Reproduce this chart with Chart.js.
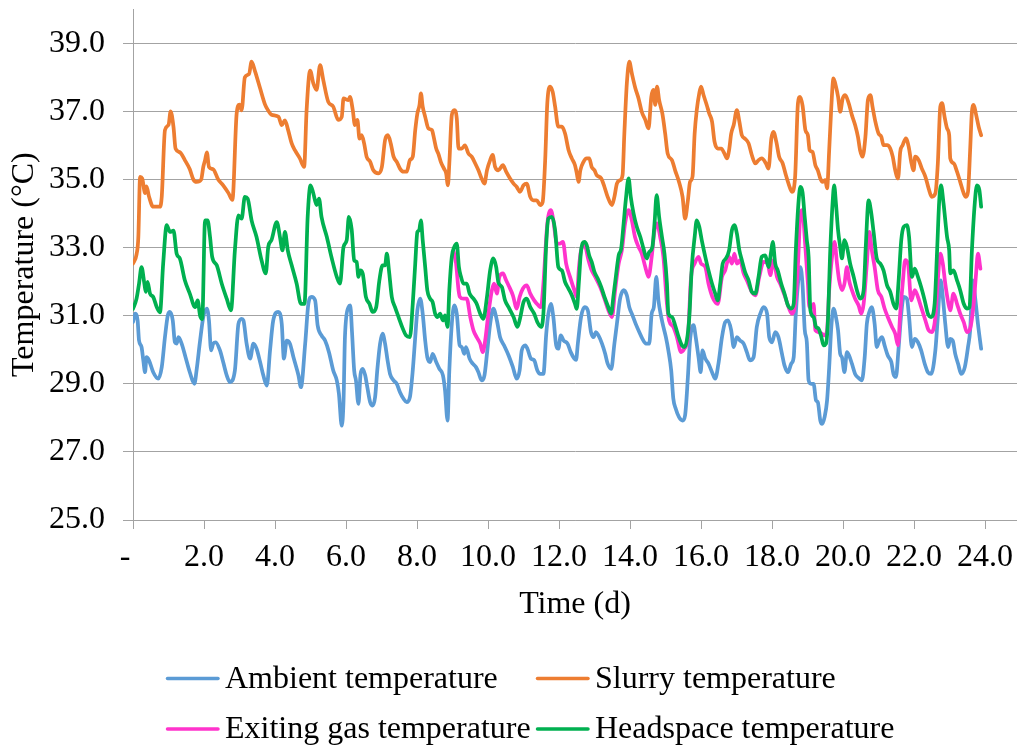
<!DOCTYPE html>
<html>
<head>
<meta charset="utf-8">
<script src="https://cdn.jsdelivr.net/npm/chart.js@4.4.1/dist/chart.umd.min.js"></script>
<style>
  html, body { margin: 0; padding: 0; background: #fff; overflow: hidden; }
  canvas { display: block; }
</style>
</head>
<body>
<canvas id="c" width="1017" height="746"></canvas>
<script>
// ---------------- DATA ----------------
const xTicks = [0, 2, 4, 6, 8, 10, 12, 14, 16, 18, 20, 22, 24];
const yTicks = [25, 27, 29, 31, 33, 35, 37, 39];

const seriesNames = ['Ambient temperature', 'Slurry temperature', 'Exiting gas temperature', 'Headspace temperature'];

const ambientDays = [0.00,0.06,0.13,0.17,0.24,0.29,0.34,0.38,0.45,0.57,0.71,0.81,0.90,0.98,1.04,1.12,1.18,1.23,1.28,1.37,1.48,1.60,1.73,1.79,1.89,1.98,2.08,2.14,2.20,2.26,2.33,2.45,2.54,2.64,2.73,2.87,2.97,3.06,3.11,3.20,3.30,3.39,3.48,3.58,3.67,3.77,3.86,3.95,4.09,4.19,4.25,4.33,4.42,4.52,4.66,4.73,4.85,4.94,5.03,5.13,5.20,5.31,5.41,5.52,5.64,5.74,5.80,5.88,5.93,5.97,6.07,6.12,6.17,6.23,6.28,6.35,6.41,6.47,6.54,6.60,6.68,6.75,6.82,6.88,6.96,7.03,7.10,7.17,7.24,7.34,7.43,7.52,7.62,7.71,7.80,7.88,7.95,8.01,8.09,8.16,8.23,8.29,8.37,8.44,8.54,8.63,8.73,8.79,8.86,8.91,8.98,9.05,9.12,9.20,9.26,9.33,9.38,9.48,9.57,9.66,9.73,9.82,9.90,9.98,10.06,10.15,10.25,10.34,10.45,10.58,10.70,10.81,10.89,10.95,11.05,11.11,11.21,11.30,11.39,11.47,11.56,11.64,11.70,11.77,11.84,11.92,11.98,12.05,12.13,12.24,12.33,12.43,12.48,12.53,12.62,12.72,12.81,12.90,12.97,13.04,13.11,13.21,13.30,13.37,13.47,13.56,13.63,13.72,13.82,13.91,13.98,14.07,14.16,14.26,14.35,14.45,14.54,14.61,14.67,14.74,14.80,14.88,14.94,15.01,15.08,15.16,15.22,15.29,15.38,15.48,15.55,15.63,15.69,15.79,15.85,15.93,15.99,16.04,16.12,16.21,16.31,16.40,16.49,16.59,16.68,16.76,16.85,16.92,17.01,17.10,17.20,17.29,17.38,17.48,17.57,17.67,17.76,17.86,17.92,18.00,18.09,18.18,18.28,18.35,18.45,18.54,18.61,18.67,18.75,18.80,18.86,18.92,18.98,19.03,19.10,19.17,19.24,19.29,19.36,19.41,19.48,19.55,19.61,19.67,19.73,19.80,19.86,19.92,19.97,20.04,20.11,20.17,20.25,20.34,20.46,20.53,20.61,20.67,20.74,20.81,20.89,20.95,21.02,21.10,21.17,21.26,21.36,21.42,21.49,21.56,21.64,21.71,21.80,21.86,21.94,22.02,22.11,22.20,22.30,22.39,22.48,22.60,22.67,22.75,22.81,22.88,22.96,23.02,23.09,23.16,23.24,23.33,23.43,23.52,23.58,23.65,23.73,23.80,23.89];
const ambientTemp = [30.81,31.06,30.86,30.27,30.08,29.69,29.34,29.78,29.69,29.34,29.15,29.49,30.37,31.01,31.11,30.86,30.22,30.18,30.37,30.18,29.78,29.34,29.00,29.39,30.27,30.96,31.21,30.86,29.98,30.18,30.22,29.98,29.64,29.25,29.05,29.39,30.76,30.91,30.86,30.18,29.74,30.18,30.03,29.64,29.25,28.95,29.98,30.86,31.11,30.76,29.74,30.27,30.18,29.78,29.25,28.90,30.18,31.35,31.55,31.45,30.72,30.42,30.27,29.93,29.39,29.10,28.71,27.77,28.50,30.37,31.25,31.30,30.50,29.39,29.10,28.41,29.29,29.44,29.25,28.90,28.46,28.36,28.61,29.39,30.18,30.47,30.18,29.69,29.29,29.10,29.00,28.75,28.56,28.46,28.61,29.39,30.37,31.16,31.50,31.06,30.27,29.78,29.64,29.88,29.64,29.44,29.25,28.80,27.92,29.39,30.76,31.30,31.06,30.13,30.08,29.88,30.08,29.74,29.59,29.49,29.34,29.10,29.25,29.98,30.76,31.21,30.86,30.37,30.13,29.83,29.49,29.15,29.39,29.98,30.13,30.03,29.74,29.69,29.39,29.29,29.29,30.47,31.06,31.35,30.96,30.13,30.03,30.42,30.27,30.18,29.93,29.74,29.70,30.18,30.96,31.25,31.16,30.52,30.37,30.52,30.42,30.18,29.88,29.59,29.44,30.18,30.76,31.50,31.75,31.60,31.25,31.01,30.76,30.52,30.32,30.18,30.18,31.06,31.25,32.14,31.45,30.96,30.67,30.37,29.98,29.39,28.56,28.26,28.02,27.92,28.07,29.20,30.27,30.72,30.37,29.78,29.34,29.98,29.74,29.59,29.34,29.15,29.59,30.37,30.81,30.86,30.57,30.08,30.37,30.27,30.18,29.93,29.69,29.78,30.67,31.06,31.25,31.06,30.37,30.22,30.52,30.37,29.88,29.54,29.34,29.59,29.78,31.06,32.14,32.43,31.90,30.60,30.22,29.10,29.00,29.00,28.51,28.46,27.92,27.82,28.02,28.51,29.49,30.67,31.21,30.96,30.57,29.88,29.78,29.34,29.93,29.83,29.59,29.29,29.15,29.10,29.78,30.76,31.11,31.25,30.76,30.08,30.27,30.37,30.13,29.83,29.64,29.29,29.20,29.98,31.06,31.55,31.50,30.96,30.08,30.32,30.22,29.98,29.59,29.34,29.29,29.98,30.96,32.04,31.55,30.76,30.08,30.32,30.27,29.88,29.59,29.29,29.49,30.08,30.57,32.04,31.45,30.76,30.03];

const slurryDays = [0.00,0.10,0.15,0.20,0.26,0.34,0.38,0.45,0.57,0.76,0.81,0.90,1.00,1.06,1.14,1.20,1.32,1.46,1.60,1.70,1.79,1.92,1.98,2.03,2.08,2.14,2.26,2.40,2.54,2.69,2.80,2.92,3.00,3.06,3.15,3.27,3.34,3.44,3.58,3.72,3.80,3.90,4.10,4.19,4.28,4.37,4.47,4.56,4.70,4.82,4.89,4.99,5.08,5.17,5.27,5.36,5.50,5.64,5.78,5.88,5.93,6.07,6.11,6.19,6.25,6.32,6.38,6.44,6.51,6.58,6.68,6.77,6.91,7.01,7.10,7.18,7.26,7.34,7.43,7.52,7.62,7.71,7.80,7.88,7.95,8.01,8.07,8.11,8.16,8.23,8.32,8.42,8.48,8.54,8.60,8.67,8.76,8.82,8.87,8.91,8.98,9.05,9.12,9.17,9.26,9.35,9.45,9.54,9.64,9.73,9.82,9.90,9.97,10.06,10.13,10.20,10.29,10.42,10.51,10.62,10.72,10.81,10.90,11.00,11.09,11.19,11.28,11.37,11.47,11.54,11.61,11.67,11.75,11.82,11.89,11.98,12.08,12.17,12.27,12.36,12.45,12.50,12.55,12.60,12.69,12.78,12.85,12.92,13.00,13.06,13.19,13.28,13.37,13.49,13.56,13.63,13.72,13.79,13.84,13.91,13.98,14.05,14.15,14.24,14.33,14.43,14.52,14.60,14.66,14.71,14.76,14.82,14.91,14.99,15.06,15.18,15.27,15.38,15.48,15.55,15.63,15.69,15.76,15.82,15.88,15.95,16.00,16.07,16.16,16.23,16.31,16.38,16.47,16.57,16.66,16.73,16.79,16.85,16.92,17.01,17.08,17.15,17.24,17.34,17.43,17.53,17.62,17.71,17.83,17.90,17.98,18.04,18.12,18.20,18.30,18.39,18.48,18.56,18.65,18.73,18.79,18.86,18.94,19.01,19.06,19.14,19.22,19.29,19.36,19.42,19.50,19.55,19.61,19.67,19.73,19.80,19.86,19.92,19.99,20.06,20.16,20.25,20.34,20.42,20.48,20.55,20.63,20.70,20.77,20.83,20.91,21.00,21.08,21.14,21.24,21.33,21.40,21.47,21.55,21.61,21.68,21.77,21.85,21.92,21.99,22.03,22.13,22.22,22.32,22.41,22.50,22.60,22.67,22.74,22.79,22.86,22.93,22.99,23.02,23.12,23.21,23.30,23.40,23.46,23.52,23.58,23.63,23.68,23.74,23.82,23.89];
const slurryTemp = [32.53,32.80,33.30,35.08,35.03,34.60,34.80,34.50,34.20,34.20,34.50,36.45,36.60,37.00,36.55,35.90,35.80,35.57,35.30,35.00,34.93,35.00,35.37,35.57,35.80,35.37,35.30,35.00,34.83,34.60,34.40,36.94,37.20,37.03,38.00,38.10,38.46,38.17,37.68,37.20,37.04,36.90,36.84,36.60,36.74,36.45,36.06,35.86,35.62,35.37,37.04,38.20,37.82,37.63,38.36,37.92,37.28,37.14,36.75,36.84,37.38,37.33,37.43,37.04,36.60,36.75,36.20,36.30,36.06,35.67,35.52,35.27,35.18,35.37,36.16,36.30,36.06,35.67,35.52,35.32,35.23,35.23,35.57,35.67,36.45,36.94,37.19,37.53,37.14,36.84,36.50,36.45,36.20,35.91,35.76,35.52,35.32,35.18,34.83,35.47,36.89,37.04,36.79,35.91,35.91,36.00,35.76,35.67,35.47,35.27,35.03,34.88,35.27,35.57,35.72,35.37,35.27,35.42,35.23,35.03,34.88,34.78,34.64,34.83,34.88,34.49,34.39,34.39,34.25,34.34,35.57,37.24,37.73,37.58,37.14,36.55,36.55,36.35,35.86,35.62,35.42,35.18,34.93,35.27,35.52,35.62,35.62,35.37,35.27,35.13,35.03,34.78,34.49,34.25,34.49,34.88,34.98,35.13,36.35,37.82,38.46,38.12,37.68,37.38,36.99,36.75,36.50,37.43,37.63,37.19,37.73,37.33,36.94,36.35,35.76,35.57,35.27,34.93,34.49,33.85,34.39,34.93,35.08,36.35,37.04,37.53,37.73,37.48,37.19,36.94,36.70,36.11,35.91,35.91,35.76,35.62,35.86,36.35,36.60,37.04,36.70,36.30,36.20,36.06,35.72,35.47,35.57,35.62,35.47,35.32,36.20,36.40,36.11,35.67,35.47,35.13,34.83,34.64,35.08,37.24,37.43,37.17,36.45,36.30,35.86,35.81,35.42,35.27,35.03,34.93,34.98,34.74,35.86,37.14,37.97,37.73,37.43,36.99,37.38,37.48,37.24,36.89,36.60,36.25,35.86,35.67,36.25,37.33,37.48,37.14,36.70,36.35,36.25,36.01,36.01,35.91,35.67,35.27,35.03,35.81,36.01,36.21,35.96,35.52,35.27,35.67,35.57,35.32,35.08,34.74,34.49,34.59,35.47,37.14,37.24,36.84,36.50,36.30,35.62,35.47,35.23,34.93,34.59,34.49,34.64,35.86,36.99,37.19,36.94,36.55,36.30];

const gasDays = [9.03,9.10,9.17,9.21,9.31,9.40,9.50,9.59,9.68,9.78,9.85,9.92,10.01,10.11,10.17,10.25,10.32,10.42,10.51,10.60,10.70,10.81,10.89,10.98,11.09,11.19,11.30,11.42,11.49,11.56,11.67,11.77,11.84,11.94,12.03,12.11,12.20,12.31,12.43,12.50,12.56,12.62,12.72,12.83,12.92,13.02,13.16,13.28,13.39,13.49,13.58,13.68,13.77,13.86,13.96,14.05,14.14,14.24,14.33,14.43,14.52,14.61,14.69,14.76,14.85,14.94,15.04,15.10,15.22,15.32,15.44,15.53,15.63,15.72,15.82,15.93,16.00,16.12,16.21,16.32,16.47,16.59,16.68,16.79,16.87,16.94,17.01,17.10,17.20,17.29,17.43,17.53,17.64,17.76,17.88,17.95,18.04,18.14,18.23,18.37,18.48,18.56,18.65,18.73,18.80,18.85,18.94,19.01,19.05,19.12,19.17,19.22,19.31,19.40,19.48,19.55,19.61,19.69,19.76,19.83,19.89,19.97,20.04,20.11,20.17,20.25,20.34,20.44,20.51,20.58,20.67,20.74,20.81,20.89,20.98,21.08,21.17,21.26,21.38,21.47,21.55,21.61,21.68,21.75,21.83,21.92,22.02,22.11,22.20,22.32,22.41,22.50,22.60,22.67,22.74,22.81,22.88,22.97,23.02,23.11,23.21,23.30,23.40,23.49,23.58,23.68,23.74,23.80,23.87];
const gasTemp = [32.90,32.53,31.75,31.55,31.50,31.50,30.96,30.57,30.37,30.18,29.93,30.27,31.06,31.75,31.94,31.65,32.14,32.24,32.04,31.84,31.60,31.21,31.55,31.79,31.89,31.65,31.45,31.30,31.25,31.94,33.70,34.10,33.80,33.12,33.12,33.17,32.53,32.14,31.75,31.55,32.40,32.92,33.07,32.63,32.33,32.14,31.84,31.50,31.16,30.96,31.75,32.53,32.92,33.71,34.10,33.80,33.31,33.02,32.82,32.43,32.14,32.73,33.51,33.71,33.31,32.73,31.35,30.86,30.67,30.37,29.93,30.03,30.37,32.14,32.53,32.73,32.53,32.43,31.94,31.55,31.35,32.14,32.33,32.73,32.53,32.82,32.53,32.63,32.24,32.04,31.70,31.60,32.14,32.58,32.53,32.19,32.63,32.14,31.94,31.55,31.21,31.06,31.35,32.50,34.00,34.10,33.00,31.94,31.25,31.25,31.35,30.57,30.52,30.47,30.42,30.57,31.75,32.73,33.17,32.53,32.04,31.75,31.94,32.43,32.04,31.75,31.50,31.30,31.06,31.35,32.53,33.46,32.92,32.43,31.75,31.55,31.21,30.96,30.67,30.47,30.13,31.06,31.94,32.63,32.53,31.45,31.75,31.55,31.25,30.86,30.57,30.52,30.96,32.04,32.82,32.53,31.94,31.35,31.16,31.65,31.35,31.06,30.81,30.52,30.62,31.35,32.14,32.82,32.38];

const headDays = [0.00,0.10,0.17,0.24,0.32,0.36,0.41,0.48,0.57,0.67,0.76,0.85,0.95,1.04,1.14,1.23,1.32,1.46,1.60,1.75,1.82,1.89,1.95,2.03,2.10,2.17,2.23,2.36,2.50,2.64,2.76,2.87,2.97,3.06,3.15,3.23,3.34,3.48,3.62,3.74,3.81,3.90,4.05,4.14,4.21,4.28,4.36,4.47,4.61,4.73,4.83,4.92,5.00,5.08,5.17,5.24,5.31,5.46,5.60,5.74,5.83,5.93,6.02,6.08,6.16,6.23,6.30,6.35,6.40,6.47,6.56,6.66,6.75,6.85,6.94,7.03,7.10,7.15,7.21,7.29,7.38,7.48,7.60,7.69,7.80,7.88,7.95,8.01,8.06,8.11,8.16,8.23,8.29,8.37,8.44,8.51,8.58,8.65,8.73,8.79,8.86,8.91,8.98,9.05,9.12,9.18,9.24,9.31,9.40,9.48,9.59,9.68,9.78,9.87,9.97,10.06,10.15,10.23,10.29,10.39,10.48,10.60,10.72,10.83,10.90,11.00,11.09,11.19,11.30,11.39,11.49,11.56,11.64,11.70,11.80,11.89,11.98,12.08,12.17,12.27,12.36,12.45,12.50,12.56,12.62,12.72,12.78,12.85,12.92,13.00,13.09,13.19,13.28,13.37,13.47,13.53,13.60,13.68,13.75,13.82,13.88,13.96,14.02,14.10,14.19,14.29,14.38,14.47,14.54,14.63,14.69,14.75,14.82,14.90,14.97,15.04,15.08,15.18,15.27,15.37,15.46,15.53,15.60,15.67,15.74,15.82,15.88,15.95,16.02,16.12,16.21,16.31,16.40,16.47,16.54,16.61,16.70,16.79,16.87,16.94,17.01,17.08,17.15,17.24,17.34,17.43,17.53,17.62,17.71,17.81,17.90,17.98,18.02,18.09,18.16,18.26,18.35,18.45,18.54,18.61,18.67,18.75,18.80,18.86,18.92,18.98,19.03,19.08,19.17,19.24,19.31,19.39,19.45,19.52,19.57,19.64,19.71,19.75,19.80,19.86,19.92,19.97,20.04,20.11,20.20,20.30,20.39,20.48,20.58,20.64,20.72,20.79,20.86,20.95,21.05,21.14,21.24,21.33,21.42,21.50,21.56,21.64,21.71,21.80,21.86,21.94,22.02,22.11,22.20,22.30,22.39,22.48,22.58,22.65,22.71,22.76,22.83,22.93,22.99,23.02,23.11,23.21,23.30,23.40,23.49,23.56,23.63,23.71,23.77,23.84,23.89];
const headTemp = [31.20,31.50,31.94,32.43,31.94,31.70,31.99,31.65,31.55,31.25,31.10,32.53,33.66,33.46,33.50,32.82,32.68,32.04,31.65,31.25,31.45,31.00,30.90,33.80,33.80,33.31,32.73,32.48,31.94,31.50,31.16,32.92,33.95,33.85,34.49,34.44,33.80,33.31,32.63,32.24,33.02,33.22,33.75,33.31,32.92,33.46,32.92,32.48,31.94,31.35,31.35,33.90,34.83,34.59,34.25,34.44,33.90,33.31,32.68,32.14,31.94,33.02,33.22,33.90,33.53,32.63,32.58,32.14,32.33,32.24,31.55,31.35,31.11,31.25,32.04,32.48,32.48,32.82,32.33,31.55,31.25,30.96,30.62,30.42,30.37,31.35,32.53,33.46,33.51,33.80,33.22,32.43,31.75,31.50,31.40,31.06,30.96,31.06,30.86,31.01,30.67,31.75,32.73,33.02,33.12,32.43,32.14,31.94,31.94,31.65,31.50,31.35,31.06,30.91,31.55,32.33,32.68,32.43,31.99,31.84,31.45,31.21,30.96,30.67,30.91,31.40,31.50,31.25,31.06,30.81,30.67,31.06,33.12,33.85,33.90,33.51,32.43,32.33,31.99,31.79,31.60,31.35,31.20,32.00,32.90,33.17,33.07,32.77,32.58,32.28,32.09,31.84,31.55,31.30,31.06,31.55,32.14,32.77,32.97,33.71,34.39,35.03,34.49,34.00,33.61,33.31,32.97,32.68,32.87,33.02,33.71,34.54,33.90,33.31,32.82,31.94,31.06,30.96,30.72,30.37,30.13,30.08,30.27,30.96,32.43,33.31,33.80,33.61,33.22,32.73,32.33,31.94,31.65,31.45,31.94,32.53,32.68,32.92,33.51,33.66,33.41,32.92,32.63,32.28,32.04,31.70,31.65,32.14,32.73,32.77,32.43,32.92,33.17,32.53,32.33,31.94,31.65,31.30,31.21,31.35,32.92,34.39,34.78,34.62,33.90,33.22,32.73,31.16,30.96,30.67,30.62,30.37,30.13,30.18,30.76,32.92,34.39,34.83,34.30,33.51,33.02,32.68,33.22,33.02,32.53,32.14,31.75,31.50,31.75,33.02,34.39,34.05,33.46,32.68,32.53,32.33,31.89,31.70,31.35,31.21,31.94,33.22,33.61,33.66,33.31,32.14,32.38,32.14,31.84,31.45,31.06,30.96,31.35,32.92,34.39,34.83,34.30,33.31,32.92,32.24,32.33,32.04,31.75,31.35,31.21,31.25,32.92,34.30,34.83,34.69,34.20];

const seriesColors = ['#5B9BD5', '#ED7D31', '#FF33CC', '#00B050'];

// ---------------- CHART ----------------
const pairs = (xs, ys) => xs.map((x, i) => ({ x: x, y: ys[i] }));
const GRID = '#a3a3a3';
const FONT = '"Liberation Serif", "Times New Roman", serif';
const FS = 32;

Chart.defaults.font.family = FONT;
Chart.defaults.font.size = FS;
Chart.defaults.color = '#000';

const excelLegend = {
  id: 'excelLegend',
  afterDraw(chart) {
    const ctx = chart.ctx;
    const cols = [166, 536];
    const rows = [679.5, 730];
    chart.data.datasets.forEach((ds, i) => {
      const x = cols[i % 2];
      const y = rows[Math.floor(i / 2)];
      ctx.save();
      ctx.strokeStyle = ds.borderColor;
      ctx.lineWidth = 3.5;
      ctx.lineCap = 'round';
      ctx.beginPath();
      ctx.moveTo(x + 1.5, y - 1);
      ctx.lineTo(x + 52, y - 1);
      ctx.stroke();
      ctx.fillStyle = '#000';
      ctx.font = FS + 'px ' + FONT;
      ctx.textBaseline = 'middle';
      ctx.textAlign = 'left';
      ctx.fillText(ds.label, x + 59, y);
      ctx.restore();
    });
  }
};

const datasets = [
  pairs(ambientDays, ambientTemp),
  pairs(slurryDays, slurryTemp),
  pairs(gasDays, gasTemp),
  pairs(headDays, headTemp)
].map((d, i) => ({
  label: seriesNames[i],
  data: d,
  borderColor: seriesColors[i],
  backgroundColor: seriesColors[i],
  order: 4 - i
}));

new Chart(document.getElementById('c'), {
  type: 'line',
  data: { datasets: datasets },
  options: {
    responsive: false,
    animation: false,
    devicePixelRatio: 1,
    events: [],
    elements: {
      point: { radius: 0, hoverRadius: 0 },
      line: { borderWidth: 3.75, cubicInterpolationMode: 'monotone', borderCapStyle: 'round', borderJoinStyle: 'round', fill: false }
    },
    layout: { padding: { top: 9.25, right: 0, bottom: 121, left: 0 } },
    plugins: { legend: { display: false }, tooltip: { enabled: false } },
    scales: {
      x: {
        type: 'linear',
        min: 0,
        max: 24.9,
        afterBuildTicks: s => { s.ticks = xTicks.map(v => ({ value: v })); },
        afterFit: s => { s.height = 105; s.paddingLeft = 0; s.paddingRight = 0; },
        ticks: {
          autoSkip: false,
          maxRotation: 0,
          padding: 9,
          callback: v => (v === 0 ? '-  ' : Number(v).toFixed(1))
        },
        grid: { display: true, drawOnChartArea: false, drawTicks: true, tickLength: 9, color: GRID, lineWidth: 1 },
        border: { display: true, color: GRID, width: 1 },
        title: { display: true, text: 'Time (d)', padding: { top: 0, bottom: 1 } }
      },
      y: {
        min: 25,
        max: 40,
        afterBuildTicks: s => { s.ticks = yTicks.map(v => ({ value: v })); },
        afterFit: s => { s.width = 133; s.paddingTop = 0; s.paddingBottom = 0; },
        ticks: { padding: 18, callback: v => Number(v).toFixed(1) },
        grid: { color: GRID, lineWidth: 1, tickLength: 10 },
        border: { display: true, color: GRID, width: 1 },
        title: { display: true, text: 'Temperature (°C)', padding: { top: 5, bottom: 0 } }
      }
    }
  },
  plugins: [excelLegend]
});
</script>
</body>
</html>
